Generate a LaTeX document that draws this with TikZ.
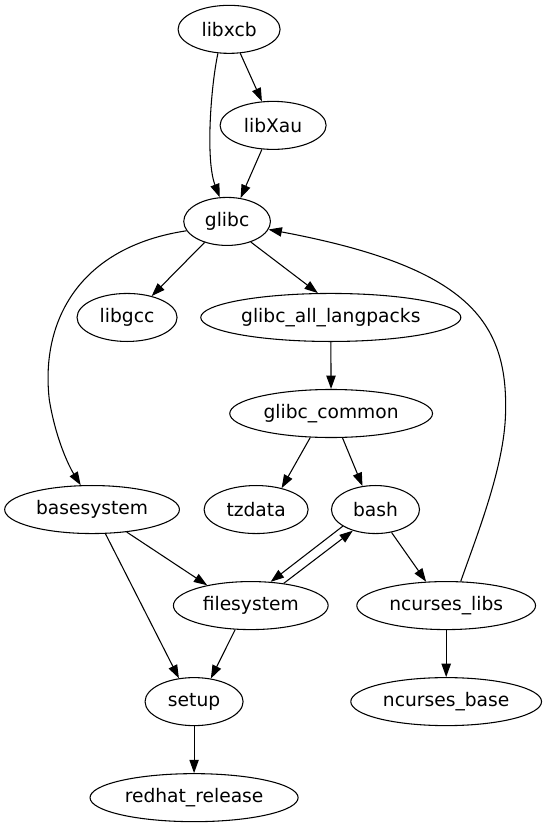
\documentclass[tikz,border=0pt]{standalone}
\usepackage{fontspec}
\setmainfont{DejaVu Sans}
\usetikzlibrary{arrows.meta, shapes.geometric}

\begin{document}
\begin{tikzpicture}[x=1pt, y=-1pt,
    pkg/.style={ellipse, draw, line width=0.8pt, inner sep=0pt, minimum height=36pt, font=\fontsize{14}{16}\selectfont},
    dep/.style={line width=0.8pt, -{Triangle[length=10pt, width=7pt]}}]
      \useasboundingbox (0,0) rectangle (410,620);

      \node[pkg, minimum width=76.5pt] (libxcb) at (171.75,22) {libxcb};
      \node[pkg, minimum width=79.5pt] (libXau) at (204.75,94) {libXau};
      \node[pkg, minimum width=65pt] (glibc) at (170.25,166) {glibc};
      \node[pkg, minimum width=75pt] (libgcc) at (95.25,238) {libgcc};
      \node[pkg, minimum width=195pt] (langpacks) at (248,238) {glibc\_all\_langpacks};
      \node[pkg, minimum width=152pt] (common) at (248.25,310) {glibc\_common};
      \node[pkg, minimum width=131pt] (basesystem) at (69,382) {basesystem};
      \node[pkg, minimum width=78pt] (tzdata) at (192,382) {tzdata};
      \node[pkg, minimum width=66pt] (bash) at (281.5,382) {bash};
      \node[pkg, minimum width=116pt] (filesystem) at (188,454) {filesystem};
      \node[pkg, minimum width=134pt] (nclibs) at (334.5,454) {ncurses\_libs};
      \node[pkg, minimum width=73.5pt] (setup) at (145.5,526) {setup};
      \node[pkg, minimum width=143pt] (ncbase) at (334.5,526) {ncurses\_base};
      \node[pkg, minimum width=156pt] (redhat) at (145.5,598) {redhat\_release};

      \draw[dep] (libxcb.-65) -- (libXau.115);
      \draw[dep] (libxcb.-115) .. controls (158,65) and (154,120) .. (glibc.107);
      \draw[dep] (libXau.-115) -- (glibc.60);
      \draw[dep] (glibc.-137) -- (libgcc.41);
      \draw[dep] (glibc.-41.5) -- (langpacks.118);
      \draw[dep] (glibc.-167) .. controls (60,185) and (30,240) .. (37,300)
        .. controls (42,330) and (52,350) .. (basesystem.115);
      \draw[dep] (langpacks) -- (common);
      \draw[dep] (common.-131) -- (tzdata.40.5);
      \draw[dep] (common.-65) -- (bash.119);
      \draw[dep] (basesystem.-33) -- (filesystem.155);
      \draw[dep] (basesystem.-61) -- (setup.123);
      \draw[dep] (bash.-153) -- (filesystem.50);
      \draw[dep] (filesystem.34) -- (bash.-137);
      \draw[dep] (bash.-55) -- (nclibs.130);
      \draw[dep] (filesystem.-123) -- (setup.54);
      \draw[dep] (nclibs) -- (ncbase);
      \draw[dep] (setup) -- (redhat);
      \draw[dep] (nclibs.59) .. controls (358,400) and (378,350) .. (379,310)
        .. controls (381,240) and (350,200) .. (glibc.-11);
\end{tikzpicture}
\end{document}
